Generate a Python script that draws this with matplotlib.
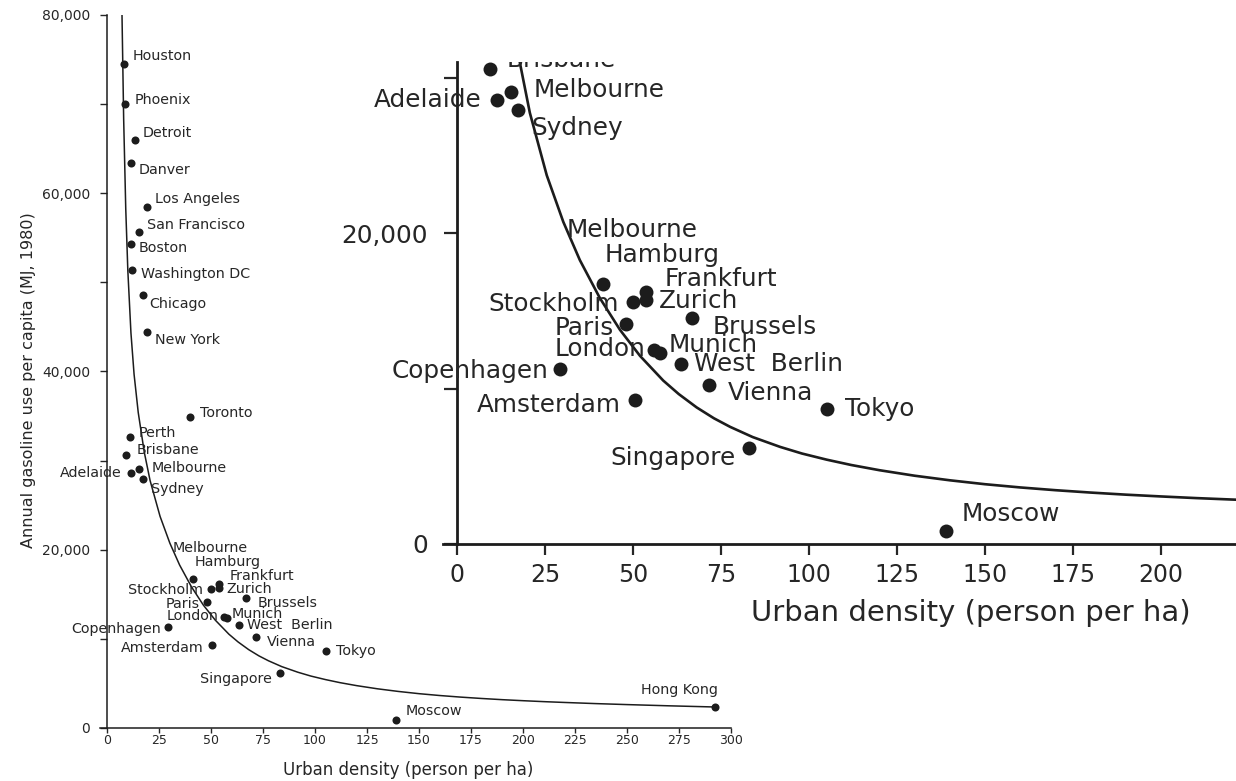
import numpy as np
import matplotlib.pyplot as plt
from matplotlib.ticker import FixedLocator, FuncFormatter
from matplotlib.transforms import Bbox, TransformedBbox

# Urban density (persons per ha) and annual gasoline use per capita (MJ, 1980)
cities = ['Houston', 'Phoenix', 'Detroit', 'Danver', 'Los Angeles', 'San Francisco',
          'Boston', 'Washington DC', 'Chicago', 'New York', 'Toronto', 'Perth',
          'Brisbane', 'Adelaide', 'Melbourne', 'Sydney', 'Hamburg', 'Frankfurt',
          'Stockholm', 'Zurich', 'Brussels', 'Paris', 'London', 'Munich',
          'West Berlin', 'Copenhagen', 'Vienna', 'Amsterdam', 'Tokyo', 'Singapore',
          'Moscow', 'Hong Kong']
density = [8.2, 8.8, 13.3, 11.4, 19.1, 15.2,
           11.4, 12.2, 17.1, 19.4, 39.9, 10.9,
           9.3, 11.4, 15.3, 17.4, 41.5, 53.6,
           50.0, 53.7, 66.9, 47.9, 56.1, 57.8,
           63.5, 29.3, 71.5, 50.7, 105.2, 83.0,
           138.8, 292.3]
gasoline = [74500, 70000, 66000, 63400, 58500, 55600,
            54300, 51400, 48600, 44400, 34900, 32600,
            30600, 28600, 29100, 27950, 16750, 16200,
            15600, 15700, 14580, 14170, 12480, 12300,
            11570, 11280, 10250, 9260, 8660, 6150,
            840, 2330]

# fitted trend line, read along its length
curve_density = [7.2, 8.0, 9.0, 10.0, 11.5, 13.0, 15.0, 17.9, 20.7, 25.5, 30.2, 34.9,
                 40.6, 46.3, 52.0, 58.6, 63.0, 68.1, 73.0, 77.6, 84.0, 91.8, 98.0,
                 105, 112, 120, 130, 140, 150, 160, 170, 180, 190, 200, 210, 220,
                 235, 250, 270, 292]
curve_gasoline = [80000, 68300, 58270, 51330, 44320, 39690, 35400, 30950, 27760,
                  23740, 20740, 18280, 15830, 13790, 12110, 10520, 9652, 8790, 8092,
                  7540, 6884, 6250, 5824, 5430, 5085, 4750, 4395, 4100, 3848, 3640,
                  3463, 3310, 3175, 3060, 2954, 2862, 2734, 2623, 2487, 2355]

# label text, offset from the dot in pixels (small panel scale), alignment
label_pos = {
    'Houston': [('Houston', 9, 8, 'left')],
    'Phoenix': [('Phoenix', 9, 4, 'left')],
    'Detroit': [('Detroit', 8, 7, 'left')],
    'Danver': [('Danver', 8, -7, 'left')],
    'Los Angeles': [('Los Angeles', 8, 8, 'left')],
    'San Francisco': [('San Francisco', 8, 7, 'left')],
    'Boston': [('Boston', 8, -4, 'left')],
    'Washington DC': [('Washington DC', 9, -4, 'left')],
    'Chicago': [('Chicago', 7, -9, 'left')],
    'New York': [('New York', 8, -8, 'left')],
    'Toronto': [('Toronto', 10, 4, 'left')],
    'Perth': [('Perth', 9, 4, 'left')],
    'Brisbane': [('Brisbane', 10, 5, 'left')],
    'Adelaide': [('Adelaide', -9, 0, 'right')],
    'Melbourne': [('Melbourne', 13, 1, 'left')],
    'Sydney': [('Sydney', 7.5, -10.5, 'left')],
    'Hamburg': [('Melbourne', -21, 31, 'left'), ('Hamburg', 1, 16.5, 'left')],
    'Frankfurt': [('Frankfurt', 11, 7.5, 'left')],
    'Stockholm': [('Stockholm', -8, -1.5, 'right')],
    'Zurich': [('Zurich', 7.7, -0.5, 'left')],
    'Brussels': [('Brussels', 11.5, -5.2, 'left')],
    'Paris': [('Paris', -7, -2.5, 'right')],
    'London': [('London', -5, 0.5, 'right')],
    'Munich': [('Munich', 4.5, 4.5, 'left')],
    'West Berlin': [('West  Berlin', 7.7, 0, 'left')],
    'Copenhagen': [('Copenhagen', -7, -1.5, 'right')],
    'Vienna': [('Vienna', 11, -5, 'left')],
    'Amsterdam': [('Amsterdam', -8.5, -3, 'right')],
    'Tokyo': [('Tokyo', 10.5, 0, 'left')],
    'Singapore': [('Singapore', -7.7, -5.8, 'right')],
    'Moscow': [('Moscow', 9.5, 9.5, 'left')],
    'Hong Kong': [('Hong Kong', 3, 17, 'right')],
}

ink = '#1c1c1c'
text_ink = '#262626'

fig = plt.figure(figsize=(12.36, 7.81), dpi=100)


def draw_cities(ax, scale, fontsize, clip=None):
    ax.plot(curve_density, curve_gasoline, color=ink, linewidth=1.1 * scale,
            solid_joinstyle='round', zorder=2)
    ax.scatter(density, gasoline, s=(5.8 * scale) ** 2, color=ink, linewidths=0, zorder=3)
    for name, x, y in zip(cities, density, gasoline):
        for txt, dx, dy, ha in label_pos[name]:
            t = ax.annotate(txt, (x, y), xytext=(dx * scale, dy * scale),
                            textcoords='offset pixels', ha=ha, va='center',
                            fontsize=fontsize, color=text_ink)
            if clip is not None:
                t.set_clip_box(clip)
                t.set_clip_on(True)


def style_axes(ax, spine_w):
    for side in ['top', 'right']:
        ax.spines[side].set_visible(False)
    ax.spines['left'].set_position(('data', 0))
    ax.spines['bottom'].set_position(('data', 0))
    for side in ['left', 'bottom']:
        ax.spines[side].set_linewidth(spine_w)
        ax.spines[side].set_color(ink)
    ax.yaxis.set_major_formatter(FuncFormatter(lambda v, p: f'{int(v):,}'))


# ----------------- Full range -----------------
ax = fig.add_axes([0.0807, 0.0679, 0.5108, 0.9129])
draw_cities(ax, 1.0, 10.3)
style_axes(ax, 1.1)
ax.set_xlim(-3.5, 300)
ax.set_ylim(0, 80000)
ax.xaxis.set_major_locator(FixedLocator(np.arange(0, 301, 25)))
ax.yaxis.set_major_locator(FixedLocator(np.arange(0, 80001, 20000)))
ax.yaxis.set_minor_locator(FixedLocator(np.arange(10000, 80000, 20000)))
ax.tick_params(axis='x', direction='out', length=3.6, width=1.0, pad=0.8,
               labelsize=9, colors=text_ink)
ax.tick_params(axis='y', which='both', direction='out', length=5, width=1.0, pad=7,
               labelsize=10, colors=text_ink)
ax.set_xlabel('Urban density (person per ha)', fontsize=12, color=text_ink, va='center')
ax.xaxis.set_label_coords(0.4884, -0.0589)
ax.set_ylabel('Annual gasoline use per capita (MJ, 1980)', fontsize=11.5,
              color=text_ink, va='center')
ax.yaxis.set_label_coords(-0.1136, 0.488)

# ----------------- Enlarged lower range -----------------
zoom = 1.73
ax2 = fig.add_axes([0.3584, 0.3035, 0.6416, 0.6172])
ax2.patch.set_alpha(0)
clip_box = TransformedBbox(Bbox([[333 / 1236, 0.0], [1.0, 1 - 62 / 781]]), fig.transFigure)
draw_cities(ax2, zoom, 10.3 * zoom, clip=clip_box)
style_axes(ax2, 2.0)
ax2.set_xlim(-3.98, 221.3)
ax2.set_ylim(0, 31040)
ax2.xaxis.set_major_locator(FixedLocator(np.arange(0, 201, 25)))
ax2.yaxis.set_major_locator(FixedLocator([0, 20000]))
ax2.yaxis.set_minor_locator(FixedLocator([10000, 30000]))
ax2.tick_params(axis='x', direction='out', length=8, width=1.6, pad=5.5,
                labelsize=17, colors=text_ink)
ax2.tick_params(axis='y', which='both', direction='out', length=9.4, width=1.6, pad=11.5,
                labelsize=17.8, colors=text_ink)
ax2.set_xlabel('Urban density (person per ha)', fontsize=21, color=text_ink, va='center')
ax2.xaxis.set_label_coords(0.6658, -0.1432)

fig.savefig('out.png', dpi=100)
